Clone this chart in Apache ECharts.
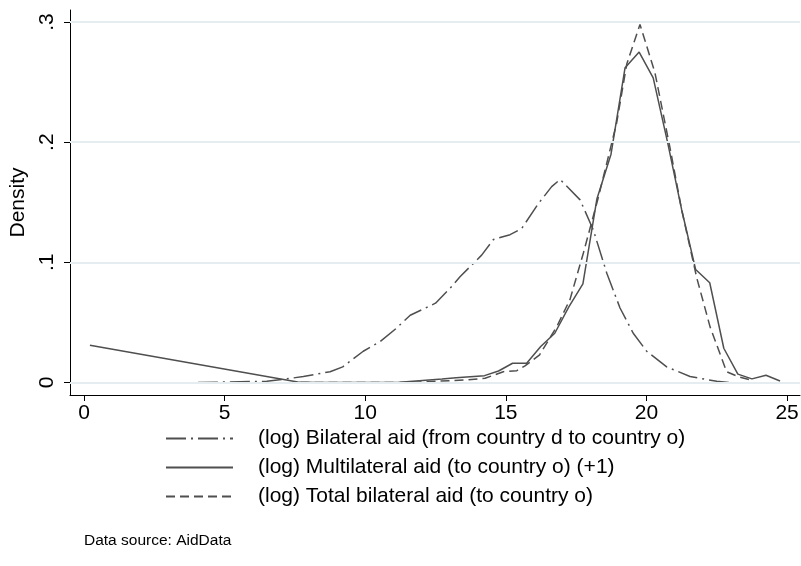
<!DOCTYPE html>
<html>
<head>
<meta charset="utf-8">
<script src="https://cdn.jsdelivr.net/npm/echarts@6/dist/echarts.min.js"></script>
<style>html,body{margin:0;padding:0;background:#fff}#c{width:801px;height:566px}</style>
</head>
<body>
<div id="c"></div>
<script>
// ---- data ----
const xTicks = [0, 5, 10, 15, 20, 25];
const yTicks = [0, 0.1, 0.2, 0.3];

const seriesNames = [
  '(log) Bilateral aid (from country d to country o)',
  '(log) Multilateral aid (to country o) (+1)',
  '(log) Total bilateral aid (to country o)'
];

const bilateralX = [4.05, 6.5, 7.2, 7.8, 8.75, 9.2, 9.93, 10.53, 11.1, 11.6, 12.5, 13.0, 13.37, 14.14, 14.56, 15.15, 15.56, 16.16, 16.63, 16.93, 17.64, 18.11, 18.59, 19.06, 19.53, 20.01, 20.72, 21.55, 22.5, 22.97];
const bilateralY = [0, 0.001, 0.003, 0.005, 0.009, 0.013, 0.026, 0.034, 0.045, 0.056, 0.066, 0.078, 0.088, 0.106, 0.119, 0.123, 0.128, 0.149, 0.163, 0.169, 0.152, 0.127, 0.091, 0.062, 0.041, 0.026, 0.013, 0.005, 0.001, 0];

const multiX = [0.21, 7.6, 8.2, 9.2, 10.2, 11.23, 12.73, 13.23, 14.24, 14.74, 15.24, 15.74, 16.24, 16.74, 17.24, 17.74, 18.24, 18.74, 19.24, 19.74, 20.24, 20.75, 21.25, 21.75, 22.25, 22.75, 23.25, 23.75, 24.25, 24.75];
const multiY = [0.031, 0.0005, 0, 0, 0, 0.0003, 0.003, 0.004, 0.0057, 0.0096, 0.016, 0.016, 0.030, 0.041, 0.063, 0.082, 0.153, 0.190, 0.262, 0.275, 0.2535, 0.200, 0.144, 0.094, 0.083, 0.0285, 0.007, 0.003, 0.006, 0.0013];

const totalX = [7.7, 10.0, 11.5, 12.5, 13.5, 14.26, 14.91, 15.39, 15.68, 16.2, 16.81, 17.28, 17.76, 18.3, 18.94, 19.3, 19.77, 20.3, 20.84, 21.25, 21.79, 22.26, 22.85, 23.27, 23.8];
const totalY = [0, 0, 0, 0.001, 0.002, 0.0035, 0.009, 0.0098, 0.0138, 0.023, 0.0465, 0.069, 0.108, 0.155, 0.216, 0.265, 0.298, 0.258, 0.195, 0.144, 0.087, 0.0465, 0.009, 0.0048, 0.0015];

const sourceNote = 'Data source: AidData';
const yTitle = 'Density';

// ---- build ----
const zip = (xs, ys) => xs.map((x, i) => [x, ys[i]]);
const FONT = '"Liberation Sans", Arial, Helvetica, sans-serif';
const LINE = '#4f4f4f';
const CLEAR = 'rgba(0,0,0,0)';

const chart = echarts.init(document.getElementById('c'), null, {renderer: 'canvas'});
chart.setOption({
  animation: false,
  backgroundColor: '#ffffff',
  grid: {left: 70, right: 1, top: 10, bottom: 171, containLabel: false, outerBoundsMode: 'none'},
  xAxis: {
    type: 'value', min: -0.498, max: 25.46,
    axisLine: {show: true, onZero: false, lineStyle: {color: '#000', width: 1}},
    axisTick: {show: true, length: 6, customValues: xTicks, lineStyle: {color: '#000'}},
    axisLabel: {customValues: xTicks, color: '#000', fontSize: 21, fontFamily: FONT, margin: 8},
    splitLine: {show: false}
  },
  yAxis: {
    type: 'value', min: -0.0104, max: 0.3100,
    name: yTitle, nameLocation: 'middle', nameGap: 29, nameRotate: 90,
    nameTextStyle: {color: '#000', fontSize: 21, fontFamily: FONT},
    axisLine: {show: true, onZero: false, lineStyle: {color: '#000', width: 1}},
    axisTick: {show: true, length: 6, customValues: yTicks, lineStyle: {color: '#000'}},
    axisLabel: {
      customValues: yTicks, rotate: 90, color: '#000', fontSize: 21, fontFamily: FONT, margin: 12,
      formatter: v => (Math.abs(v) < 1e-9 ? '0' : String(Math.round(v * 10) / 10).replace(/^0/, ''))
    },
    splitLine: {show: false}
  },
  legend: {
    data: seriesNames,
    orient: 'vertical', left: 160, top: 423,
    itemWidth: 67, itemHeight: 14, itemGap: 8,
    itemStyle: {color: CLEAR, borderColor: CLEAR, borderWidth: 0},
    textStyle: {color: '#000', fontSize: 21, fontFamily: FONT, lineHeight: 21, padding: [0, 0, 0, 20]}
  },
  graphic: [{
    type: 'text', left: 84, top: 533,
    style: {text: sourceNote, fill: '#000', font: '15.5px ' + FONT}
  }],
  series: [
    {
      name: '_grid', type: 'line', data: [], z: 1, silent: true,
      markLine: {
        silent: true, symbol: ['none', 'none'], label: {show: false},
        lineStyle: {color: '#e6edf0', width: 2, type: 'solid'},
        data: yTicks.map(v => ({yAxis: v}))
      }
    },
    {
      name: seriesNames[0], type: 'line', data: zip(bilateralX, bilateralY), z: 3,
      showSymbol: false, symbol: 'none', color: LINE,
      lineStyle: {color: LINE, width: 1.5, type: [20, 5, 2, 5]}
    },
    {
      name: seriesNames[1], type: 'line', data: zip(multiX, multiY), z: 3,
      showSymbol: false, symbol: 'none', color: LINE,
      lineStyle: {color: LINE, width: 1.5, type: 'solid'}
    },
    {
      name: seriesNames[2], type: 'line', data: zip(totalX, totalY), z: 3,
      showSymbol: false, symbol: 'none', color: LINE,
      lineStyle: {color: LINE, width: 1.5, type: [9, 5]}
    }
  ]
});
</script>
</body>
</html>
